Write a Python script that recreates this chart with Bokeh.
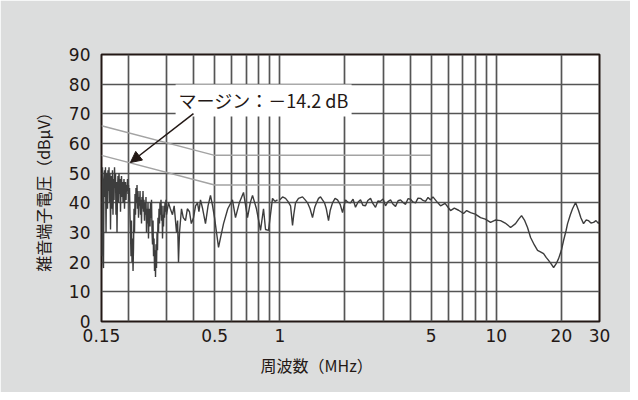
from bokeh.plotting import figure
from bokeh.models import Range1d, FixedTicker, Label, Arrow, NormalHead, Title
from bokeh.embed import file_html
from bokeh.resources import INLINE

# ---------------- data ----------------
x_ticks = [0.15, 0.5, 1, 5, 10, 20, 30]
x_tick_labels = ["0.15", "0.5", "1", "5", "10", "20", "30"]
x_grid = [0.2, 0.3, 0.4, 0.5, 0.6, 0.7, 0.8, 0.9, 1, 2, 3, 4, 5, 6, 7, 8, 9, 10, 20]
y_ticks = [0, 10, 20, 30, 40, 50, 60, 70, 80, 90]
y_grid = [10, 20, 30, 40, 50, 60, 70, 80]

# limit lines (quasi-peak / average)
qp_freq = [0.15, 0.5, 5]
qp_level = [66, 56, 56]
av_freq = [0.15, 0.5, 5]
av_level = [56, 46, 46]

# measured noise terminal voltage, 0.15 - 1 MHz (MHz, dBuV)
low_freq = [
    0.150, 0.1508, 0.1516, 0.1524, 0.1532, 0.154, 0.1549, 0.1557, 0.1565, 0.1574,
    0.1582, 0.159, 0.1599, 0.1607, 0.1616, 0.1625, 0.1633, 0.1642, 0.1651, 0.166,
    0.1668, 0.1677, 0.1686, 0.1695, 0.1704, 0.1714, 0.1723, 0.1732, 0.1741, 0.175,
    0.176, 0.1769, 0.1778, 0.1788, 0.1797, 0.1807, 0.1817, 0.1826, 0.1836, 0.1846,
    0.1856, 0.1866, 0.1876, 0.1886, 0.1896, 0.1906, 0.1916, 0.1926, 0.1936, 0.1947,
    0.1957, 0.1967, 0.1978, 0.1988, 0.1999, 0.201, 0.2021, 0.2031, 0.2042, 0.2053,
    0.2064, 0.2075, 0.2086, 0.2098, 0.2109, 0.212, 0.2131, 0.2143, 0.2154, 0.2165,
    0.2177, 0.2189, 0.22, 0.2212, 0.2224, 0.2236, 0.2248, 0.226, 0.2272, 0.2284,
    0.2296, 0.2308, 0.232, 0.2333, 0.2345, 0.2357, 0.237, 0.2383, 0.2396, 0.2408,
    0.2421, 0.2434, 0.2447, 0.246, 0.2473, 0.2486, 0.25, 0.2513, 0.2527, 0.254,
    0.2554, 0.2568, 0.2581, 0.2595, 0.2609, 0.2623, 0.2637, 0.2651, 0.2665, 0.2679,
    0.2693, 0.2708, 0.2722, 0.2736, 0.2751, 0.2766, 0.2781, 0.2795, 0.281, 0.2825,
    0.284, 0.2856, 0.2871, 0.2886, 0.2901, 0.2917, 0.2932, 0.2948, 0.2964, 0.298,
    0.2996, 0.3059, 0.312, 0.3192, 0.325, 0.3332, 0.337, 0.3403, 0.344, 0.3513,
    0.358, 0.3666, 0.374, 0.3826, 0.390, 0.3993, 0.408, 0.4166, 0.423, 0.430,
    0.440, 0.4535, 0.466, 0.4783, 0.489, 0.4993, 0.510, 0.521, 0.535, 0.5495,
    0.575, 0.6043, 0.624, 0.650, 0.6796, 0.7092, 0.730, 0.748, 0.780, 0.8144,
    0.8408, 0.859, 0.8867, 0.9253, 0.950, 0.9759,
]
low_level = [
    22, 45, 52, 20, 18, 48, 51, 42, 52, 30,
    47, 50, 38, 51, 44, 52, 40, 50, 31, 46,
    49, 38, 51, 36, 48, 41, 52, 45, 50, 36,
    47, 30, 44, 49, 40, 50, 43, 48, 37, 46,
    49, 42, 47, 40, 45, 48, 38, 44, 47, 41,
    46, 44, 48, 43, 46, 40, 45, 36, 30, 22,
    34, 20, 28, 17, 25, 38, 30, 43, 36, 45,
    40, 46, 38, 44, 35, 42, 39, 44, 36, 41,
    33, 42, 38, 44, 37, 41, 34, 40, 36, 42,
    30, 38, 33, 40, 28, 36, 38, 32, 40, 35,
    41, 30, 26, 34, 22, 28, 17, 24, 15, 26,
    18, 30, 24, 35, 30, 38, 33, 40, 36, 41,
    34, 39, 28, 36, 32, 39, 35, 40, 37, 41,
    36, 40, 38, 36, 39, 30, 34, 20, 30, 38,
    35, 34, 38, 37, 33, 35, 39, 40, 37, 41,
    38, 33, 39, 42.5, 39, 35, 30, 25, 29, 33,
    38, 41, 35, 40, 43.5, 35, 40, 42.5, 38, 30.7,
    38, 31, 30.7, 41.5, 40.5, 41,
]

# measured noise terminal voltage, 1 - 30 MHz (MHz, dBuV)
high_freq = [
    1.0, 1.03, 1.063, 1.09, 1.121, 1.145, 1.16, 1.182, 1.22, 1.273,
    1.31, 1.343, 1.38, 1.416, 1.45, 1.478, 1.51, 1.542, 1.575, 1.609,
    1.64, 1.679, 1.71, 1.752, 1.80, 1.848, 1.90, 1.949, 1.98, 2.012,
    2.06, 2.122, 2.18, 2.237, 2.30, 2.36, 2.42, 2.489, 2.55, 2.625,
    2.69, 2.768, 2.84, 2.92, 3.0, 3.079, 3.16, 3.248, 3.33, 3.425,
    3.52, 3.612, 3.71, 3.81, 3.91, 4.018, 4.12, 4.238, 4.35, 4.469,
    4.59, 4.713, 4.84, 4.971, 5.1, 5.3, 5.53, 5.8, 6.15, 6.4,
    6.7, 7.06, 7.3, 7.61, 8.0, 8.46, 8.9, 9.41, 9.9, 10.47,
    11.0, 11.65, 12.28, 12.7, 13.09, 13.5, 13.95, 14.41, 15.0, 15.52,
    16.0, 16.55, 17.0, 17.45, 17.9, 18.41, 18.9, 19.41, 20.0, 20.47,
    21.0, 21.36, 22.0, 22.52, 23.26, 24.01, 24.6, 25.32, 26.0, 26.71,
    27.4, 28.17, 28.9, 29.71, 30.0,
]
high_level = [
    41, 42, 41.5, 40.5, 39, 32.4, 36, 40, 41.5, 42,
    41, 40, 38, 35, 38.5, 40, 41.5, 42, 41, 40,
    38, 34, 37.5, 40, 41.5, 41, 39.5, 36.7, 39, 41,
    40.2, 40, 41.2, 38.5, 40.3, 41, 39.2, 39, 40.8, 41.5,
    39.8, 38.5, 40.6, 40.5, 41.3, 39, 40.4, 41, 39.6, 38.8,
    40.7, 41, 40.1, 39.5, 41.4, 41.2, 40.3, 40, 41.6, 41.5,
    40.8, 40.5, 41.8, 41, 42, 40.5, 39, 39.8, 37.4, 38.2,
    37.5, 36.4, 37.4, 36.7, 36.2, 35, 34.5, 33.4, 34.2, 34,
    33.2, 31.7, 33, 34.5, 35.7, 34.2, 31.7, 28.3, 25.8, 24,
    23.5, 22.9, 21.6, 20.6, 19.5, 18.2, 19.4, 21.2, 24, 27.3,
    30.5, 33, 36, 38, 40.1, 37.4, 35, 33, 34.2, 34,
    33.2, 33.4, 34, 33, 34,
]

margin_text = "マージン：－14.2 dB"
margin_text_pos = (0.33, 74.5)
arrow_start = (0.399, 70.1)
arrow_end = (0.204, 53.6)
x_title = "周波数（MHz）"
y_title = "雑音端子電圧（dBμV）"

# ---------------- styling ----------------
INK = "#231815"
PANEL = "#dcdddd"
GRID = "#555555"
LIMIT = "#a3a3a3"
TRACE = "#3d3d3d"
CJK = "Noto Sans CJK JP"
NUM = "DejaVu Sans"

p = figure(
    width=630, height=392,
    x_axis_type="log",
    x_range=Range1d(0.15, 30), y_range=Range1d(0, 90),
    output_backend="svg", toolbar_location=None,
    min_border_left=101, min_border_right=31,
    min_border_top=54, min_border_bottom=71,
    background_fill_color="white", border_fill_color=PANEL,
)
p.outline_line_color = INK
p.outline_line_width = 2

# grids
p.xgrid.ticker = FixedTicker(ticks=x_grid)
p.ygrid.ticker = FixedTicker(ticks=y_grid)
for g in (p.xgrid, p.ygrid):
    g.grid_line_color = GRID
    g.grid_line_width = 1.7

# axes
p.xaxis.ticker = FixedTicker(ticks=x_ticks)
p.xaxis.major_label_overrides = {t: l for t, l in zip(x_ticks, x_tick_labels)}
p.yaxis.ticker = FixedTicker(ticks=y_ticks)
for ax in (p.xaxis, p.yaxis):
    ax.axis_line_color = None
    ax.major_tick_line_color = None
    ax.minor_tick_line_color = None
    ax.major_tick_out = 0
    ax.major_tick_in = 0
    ax.minor_tick_out = 0
    ax.minor_tick_in = 0
    ax.major_label_text_font = NUM
    ax.major_label_text_font_size = "17px"
    ax.major_label_text_color = INK
p.xaxis.major_label_standoff = 7
p.yaxis.major_label_standoff = 11

p.yaxis.axis_label = y_title
p.yaxis.axis_label_text_font = CJK
p.yaxis.axis_label_text_font_size = "16px"
p.yaxis.axis_label_text_font_style = "normal"
p.yaxis.axis_label_text_color = INK
p.yaxis.axis_label_standoff = 11

# x axis title, placed below the tick labels
p.add_layout(Title(
    text=x_title, align="left", offset=159, standoff=12,
    text_font=CJK, text_font_size="16px", text_font_style="normal",
    text_color=INK,
), "below")

# limit lines
p.line(qp_freq, qp_level, line_color=LIMIT, line_width=1.5)
p.line(av_freq, av_level, line_color=LIMIT, line_width=1.5)

# measured trace
p.line(low_freq, low_level, line_color=TRACE, line_width=1.4)
p.line(high_freq, high_level, line_color=TRACE, line_width=1.4)

# annotation
p.add_layout(Label(
    x=margin_text_pos[0], y=margin_text_pos[1], text=margin_text,
    text_font=CJK, text_font_size="18px", text_color=INK,
    text_align="left", text_baseline="middle",
    background_fill_color="white", padding=3,
))
p.add_layout(Arrow(
    end=NormalHead(size=11, fill_color=INK, line_color=INK),
    x_start=arrow_start[0], y_start=arrow_start[1],
    x_end=arrow_end[0], y_end=arrow_end[1],
    line_color=INK, line_width=1.5,
))

open("out.html", "w").write(file_html(p, INLINE))
